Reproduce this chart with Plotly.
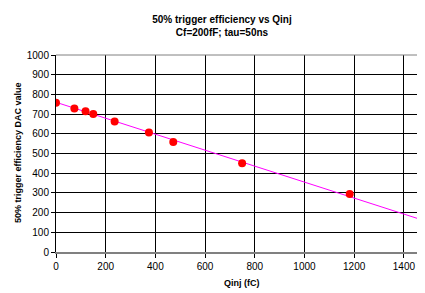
import plotly.graph_objects as go

qinj = [0, 74, 119, 150, 236, 374, 472, 749, 1182]
dac = [758, 729, 714, 700, 662, 607, 558, 450, 295]
trend_qinj = [0, 1500]
trend_dac = [760, 152]
x_ticks = [0, 200, 400, 600, 800, 1000, 1200, 1400]
y_ticks = [0, 100, 200, 300, 400, 500, 600, 700, 800, 900, 1000]

fig = go.Figure()
fig.add_trace(go.Scatter(x=trend_qinj, y=trend_dac, mode="lines",
                         line=dict(color="#FF00FF", width=1), showlegend=False))
fig.add_trace(go.Scatter(x=qinj, y=dac, mode="markers",
                         marker=dict(color="#FF0000", size=8), showlegend=False))

# page body has an 8px margin, so the figure is sized to fit the 425x293 window
W, H = 417, 285
font = "Liberation Sans, Arial, sans-serif"
fig.update_layout(
    width=W, height=H,
    margin=dict(l=48, r=0, t=47, b=41),
    paper_bgcolor="white", plot_bgcolor="white",
    font=dict(family=font, size=10, color="black"),
    title=dict(text="<b>50% trigger efficiency vs Qinj<br>Cf=200fF; tau=50ns</b>",
               x=214 / W, xanchor="center", y=1 - 15 / H, yanchor="middle",
               font=dict(size=10, family=font)),
    xaxis=dict(range=[0, 1485], tickvals=x_ticks, showgrid=True, gridcolor="black",
               gridwidth=1, showline=True, linecolor="#808080", linewidth=2, mirror=False,
               ticks="outside", ticklen=4, tickcolor="black", zeroline=False,
               automargin=False, tickfont=dict(size=10)),
    yaxis=dict(range=[0, 1000], tickvals=y_ticks, showgrid=True, gridcolor="black",
               gridwidth=1, showline=True, linecolor="black", linewidth=1,
               ticks="outside", ticklen=4, tickcolor="black", zeroline=False,
               automargin=False, tickfont=dict(size=10)),
    annotations=[
        dict(text="<b>Qinj (fC)</b>", xref="paper", yref="paper",
             x=(242 - 56) / 369, y=-(283 - 252) / 197, xanchor="center", yanchor="middle",
             showarrow=False, font=dict(size=9)),
        dict(text="<b>50% trigger efficiency DAC value</b>", xref="paper", yref="paper",
             x=-(56 - 18) / 369, y=(252 - 153) / 197, xanchor="center", yanchor="middle",
             textangle=-90, showarrow=False, font=dict(size=9)),
    ],
)
fig.add_shape(type="line", xref="paper", yref="paper", x0=0, x1=1, y0=1, y1=1,
              line=dict(color="#808080", width=1))
fig.write_html("out.html")
